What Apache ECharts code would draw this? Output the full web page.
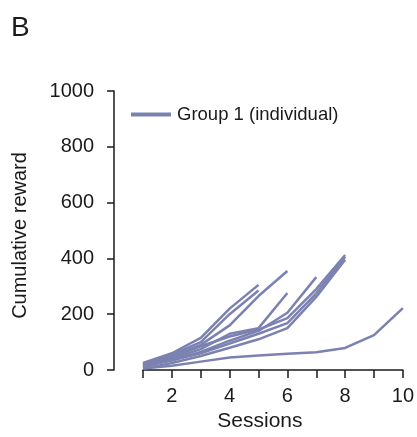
<!DOCTYPE html>
<html>
<head>
<meta charset="utf-8">
<script src="https://cdn.jsdelivr.net/npm/echarts@6/dist/echarts.min.js"></script>
<style>
  html, body { margin: 0; padding: 0; background: #fff; }
  #chart { width: 417px; height: 437px; }
</style>
</head>
<body>
<div id="chart"></div>
<script>
// Cumulative reward per session for each individual animal in group 1
const sessions = [1, 2, 3, 4, 5, 6, 7, 8, 9, 10];
const animalA = [25, 60, 115, 220, 305];
const animalB = [20, 55, 100, 200, 285];
const animalC = [15, 50, 90, 160, 265, 355];
const animalD = [10, 40, 75, 130, 150, 276];
const animalE = [12, 35, 65, 105, 140, 205, 333];
const animalF = [20, 45, 85, 120, 145, 186, 290, 412];
const animalG = [15, 35, 60, 95, 130, 168, 275, 405];
const animalH = [5, 25, 50, 80, 110, 150, 262, 395];
const animalI = [5, 15, 30, 45, 52, 58, 64, 79, 125, 222];
const yTicks = [0, 200, 400, 600, 800, 1000];

const animals = [animalA, animalB, animalC, animalD, animalE, animalF, animalG, animalH, animalI];
const groupName = 'Group 1 (individual)';
const lineColor = '#7b82b1';
const ink = '#1a1a1a';
const font = 'Liberation Sans, Arial, sans-serif';

const chart = echarts.init(document.getElementById('chart'), null, { renderer: 'canvas' });

chart.setOption({
  animation: false,
  backgroundColor: '#fff',
  title: {
    text: 'B', left: 6, top: 9,
    textStyle: { fontFamily: font, fontSize: 28, fontWeight: 'normal', color: ink }
  },
  legend: {
    data: [groupName],
    left: 126, top: 100,
    itemWidth: 40, itemHeight: 18, itemGap: 10,
    icon: 'path://M0,0 L40,0 L40,4 L0,4 Z',
    textStyle: { fontFamily: font, fontSize: 18.5, color: ink, padding: [0, 0, 0, 1] }
  },
  grid: { left: 143, right: 14, top: 91, bottom: 67, containLabel: false },
  xAxis: {
    type: 'value', min: 1, max: 10, interval: 1,
    name: 'Sessions', nameLocation: 'middle', nameGap: 35,
    nameTextStyle: { fontFamily: font, fontSize: 21, color: ink, padding: [0, 26, 0, 0] },
    offset: 2,
    axisLine: { show: true, lineStyle: { color: ink, width: 1.5 } },
    axisTick: { show: true, length: 8, lineStyle: { color: ink, width: 1.5 } },
    axisLabel: {
      fontFamily: font, fontSize: 20, color: ink, margin: 14,
      formatter: v => (v % 2 === 0 ? String(v) : '')
    },
    splitLine: { show: false }
  },
  yAxis: {
    type: 'value', min: yTicks[0], max: yTicks[yTicks.length - 1], interval: 200,
    name: 'Cumulative reward', nameLocation: 'middle', nameGap: 84,
    nameTextStyle: { fontFamily: font, fontSize: 20, color: ink, padding: [0, 10, 0, 0] },
    offset: 29,
    axisLine: { show: true, lineStyle: { color: ink, width: 1.5 } },
    axisTick: { show: true, length: 7, lineStyle: { color: ink, width: 1.5 } },
    axisLabel: { fontFamily: font, fontSize: 20, color: ink, margin: 20, formatter: v => String(v) },
    splitLine: { show: false }
  },
  series: animals.map(vals => ({
    name: groupName,
    type: 'line',
    data: vals.map((v, i) => [sessions[i], v]),
    showSymbol: false,
    symbol: 'none',
    lineStyle: { color: lineColor, width: 2.5 },
    itemStyle: { color: lineColor }
  }))
});
</script>
</body>
</html>
